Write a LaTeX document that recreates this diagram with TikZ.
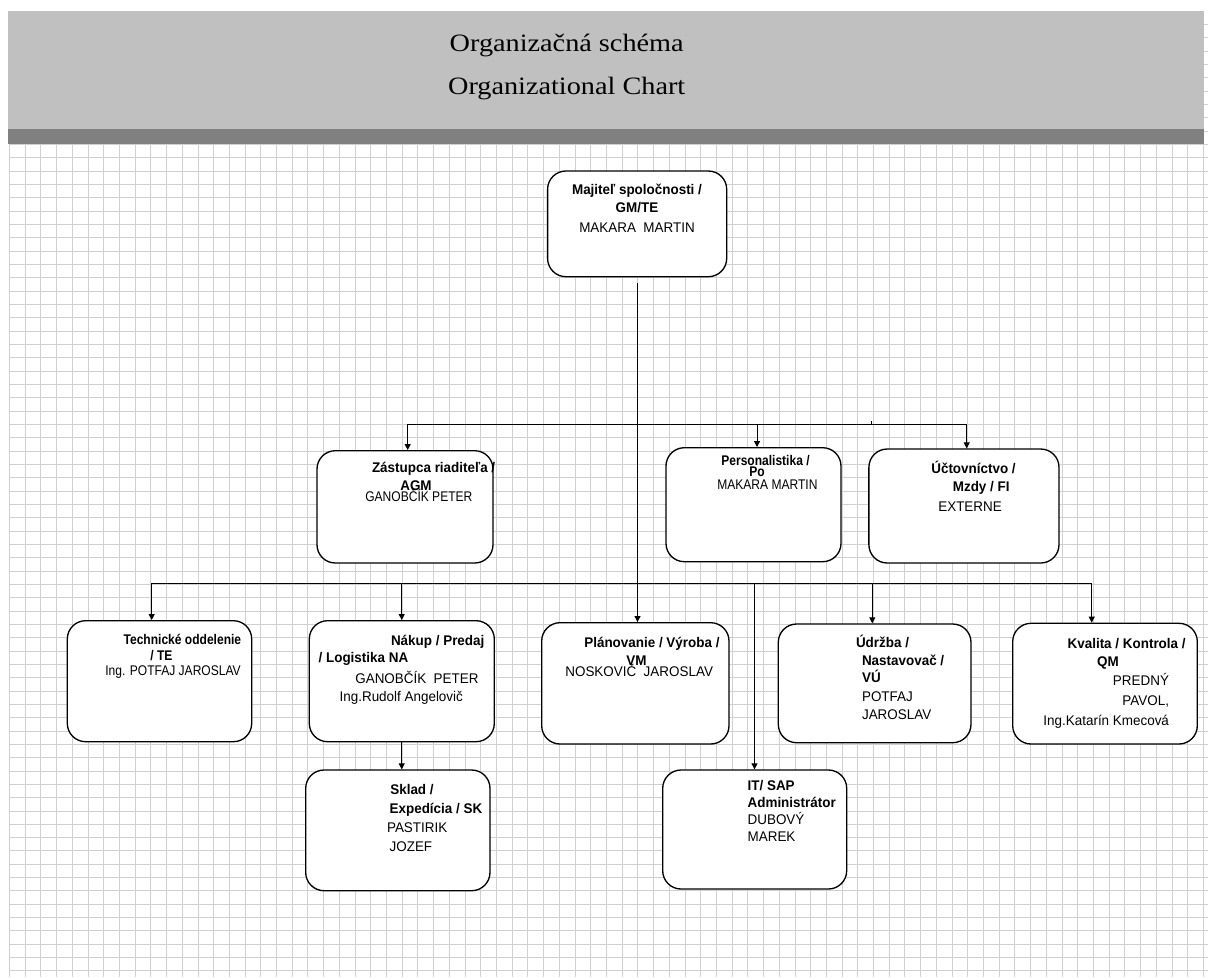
\documentclass[tikz,border=0pt]{standalone}
\usepackage{fontspec}
\usetikzlibrary{arrows.meta,fit}
\newfontfamily\fA[FakeStretch=0.96]{Liberation Sans}
\newfontfamily\fB[FakeStretch=0.86]{Liberation Sans}
\newfontfamily\fT[FakeStretch=1.13]{Liberation Serif}
\definecolor{hdr}{HTML}{C0C0C0}
\definecolor{band}{HTML}{808080}
\definecolor{gridc}{HTML}{D0D0D0}
\tikzset{
  gridline/.style={draw=gridc, line width=0.6pt},
  box/.style={draw, line width=0.8pt, rounded corners=11pt, fill=white, inner sep=0pt},
  conn/.style={line width=0.6pt},
  arr/.style={conn, -{Triangle[length=3.6pt,width=3.6pt]}},
  ttl/.style={inner sep=0pt, anchor=base, font=\fT\fontsize{15pt}{18pt}\selectfont},
  tb/.style={inner sep=0pt, anchor=base west, font=\fA\fontsize{8.4pt}{10pt}\selectfont\bfseries},
  tr/.style={inner sep=0pt, anchor=base west, font=\fA\fontsize{8.4pt}{10pt}\selectfont},
  tbn/.style={inner sep=0pt, anchor=base west, font=\fB\fontsize{8.4pt}{10pt}\selectfont\bfseries},
  trn/.style={inner sep=0pt, anchor=base west, font=\fB\fontsize{8.4pt}{10pt}\selectfont},
}
\begin{document}
\begin{tikzpicture}[x=0.6pt,y=-0.6pt]
\useasboundingbox (0,0) rectangle (1208,977);
% grid (snapped to pixel centres)
\foreach \i in {0,...,76} \draw[gridline] ({round(9+15.71*\i)+0.5},11) -- ({round(9+15.71*\i)+0.5},977);
\foreach \j in {-9,...,62} \draw[gridline] (9,{round(144+13.33*\j)+0.5}) -- (1208,{round(144+13.33*\j)+0.5});
% header
\fill[hdr] (8,11) rectangle (1204,129);
\fill[band] (8,129) rectangle (1204,144);
\node[ttl] (t1) at (566.7,51.7) {Organizačná schéma};
\node[ttl] (t2) at (566.7,94) {Organizational Chart};
% boxes
\node[box, fit={(547.6,171) (726.7,276.7)}] (bM) {};
\node[box, fit={(317,450.7) (493,563)}] (bZ) {};
\node[box, fit={(666,447.7) (841,561.7)}] (bP) {};
\node[box, fit={(868.9,449) (1059,563)}] (bU) {};
\node[box, fit={(67.3,620.7) (251.7,741.7)}] (bT) {};
\node[box, fit={(309.3,620.7) (494.3,741.7)}] (bN) {};
\node[box, fit={(541.7,622.7) (729,744)}] (bPl) {};
\node[box, fit={(778.3,624) (971,742.7)}] (bD) {};
\node[box, fit={(1012.7,623.3) (1197.3,744)}] (bK) {};
\node[box, fit={(305.7,770) (490,890.7)}] (bS) {};
\node[box, fit={(662.7,770) (846.7,889)}] (bI) {};
% connectors
\coordinate (t0) at (637.5,283);
\draw[arr] (t0) -- (t0 |- bPl.north);
\coordinate (u1) at (407.7,424);
\coordinate (u2) at (757,424);
\coordinate (u3) at (966.7,424);
\coordinate (u4) at (871.7,424);
\coordinate (u4t) at (871.7,421);
\draw[conn] (u1) -- (u3);
\draw[conn] (u4) -- (u4t);
\draw[arr] (u1) -- (u1 |- bZ.north);
\draw[arr] (u2) -- (u2 |- bP.north);
\draw[arr] (u3) -- (u3 |- bU.north);
\coordinate (l1) at (151.7,583);
\coordinate (l2) at (401.7,583);
\coordinate (li) at (754.5,583);
\coordinate (l4) at (872.3,583);
\coordinate (l5) at (1091.7,583);
\draw[conn] (l1) -- (l5);
\draw[arr] (l1) -- (l1 |- bT.north);
\draw[arr] (l2) -- (l2 |- bN.north);
\draw[arr] (li) -- (li |- bI.north);
\draw[arr] (l4) -- (l4 |- bD.north);
\draw[arr] (l5) -- (l5 |- bK.north);
\draw[arr] (l2 |- bN.south) -- (l2 |- bS.north);
% texts: Majitel
\node[tb, anchor=base] (m1) at (637,194.3) {Majiteľ spoločnosti /};
\node[tb, anchor=base] (m2) at (637,212.7) {GM/TE};
\node[tr, anchor=base] (m3) at (637,232.7) {MAKARA~~MARTIN};
% Zastupca
\node[tb] (z1) at (371.7,472.7) {Zástupca riaditeľa /};
\node[tb] (z2) at (400,490) {AGM};
\node[trn] (z3) at (365,501.7) {GANOBČÍK PETER};
% Personalistika
\node[tbn] (p1) at (721,465) {Personalistika /};
\node[tbn] (p2) at (749,476.7) {Po};
\node[trn] (p3) at (717,489) {MAKARA MARTIN};
% Uctovnictvo
\node[tb] (c1) at (931,473) {Účtovníctvo /};
\node[tb] (c2) at (952.5,491) {Mzdy / FI};
\node[tr] (c3) at (938,511) {EXTERNE};
% Technicke
\node[tbn] (e1) at (123.3,644) {Technické oddelenie};
\node[tbn] (e2) at (150,660) {/ TE};
\node[trn] (e3) at (105,675) {Ing. POTFAJ JAROSLAV};
% Nakup
\node[tb] (n1) at (390.7,645) {Nákup / Predaj};
\node[tb] (n2) at (318.3,662) {/ Logistika NA};
\node[tr] (n3) at (355,683.3) {GANOBČÍK~~PETER};
\node[tr] (n4) at (339.3,701.7) {Ing.Rudolf Angelovič};
% Planovanie
\node[tb] (v1) at (584,647.3) {Plánovanie / Výroba /};
\node[tb] (v2) at (626,665) {VM};
\node[tr] (v3) at (565,676) {NOSKOVIČ~~JAROSLAV};
% Udrzba
\node[tb] (d1) at (855.7,647.3) {Údržba /};
\node[tb] (d2) at (861.7,665) {Nastavovač /};
\node[tb] (d3) at (861.7,682.3) {VÚ};
\node[tr] (d4) at (861.7,701) {POTFAJ};
\node[tr] (d5) at (861.7,719.3) {JAROSLAV};
% Kvalita
\node[tb] (k1) at (1067.3,648.3) {Kvalita / Kontrola /};
\node[tb] (k2) at (1096.7,666.7) {QM};
\node[tr, anchor=base east] (k3) at (1169.3,685.7) {PREDNÝ};
\node[tr, anchor=base east] (k4) at (1169.3,705) {PAVOL,};
\node[tr, anchor=base east] (k5) at (1169.3,725) {Ing.Katarín Kmecová};
% Sklad
\node[tb] (s1) at (390,794.3) {Sklad /};
\node[tb] (s2) at (389.3,813.3) {Expedícia / SK};
\node[tr] (s3) at (386.7,832.3) {PASTIRIK};
\node[tr] (s4) at (389.3,851.7) {JOZEF};
% IT
\node[tb] (i1) at (747.3,790.7) {IT/ SAP};
\node[tb] (i2) at (747.3,807.3) {Administrátor};
\node[tr] (i3) at (747.3,824) {DUBOVÝ};
\node[tr] (i4) at (747.3,841) {MAREK};
\end{tikzpicture}
\end{document}
